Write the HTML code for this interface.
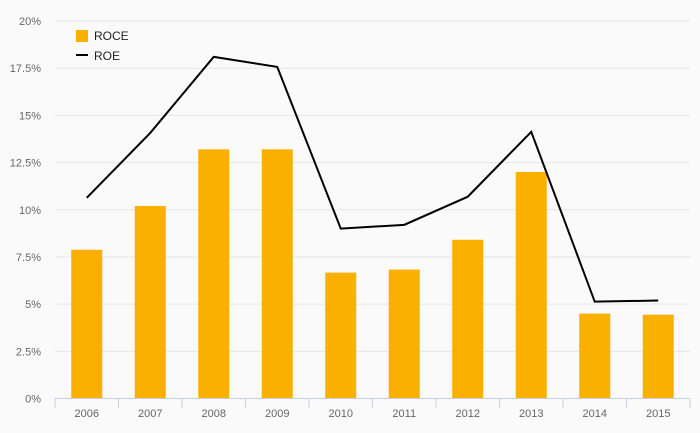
<!DOCTYPE html>
<html><head><meta charset="utf-8"><style>
body{margin:0;background:#fafafa;}
svg{display:block;font-family:"Liberation Sans",sans-serif;}
</style></head><body>
<svg id="chart" width="700" height="433">
<rect width="700" height="433" fill="#fafafa"/>
<g id="grid"></g><g id="bars"></g><g id="line"></g><g id="axis"></g>
<g>
<rect x="76" y="30" width="12" height="12" fill="#f9b000"/>
<text x="94" y="40" font-size="12" fill="#222">ROCE</text>
<line x1="76" y1="55" x2="88" y2="55" stroke="#000" stroke-width="2"/>
<text x="94" y="60" font-size="12" fill="#222">ROE</text>
</g>
</svg>
<script>
const categories=["2006","2007","2008","2009","2010","2011","2012","2013","2014","2015"];
const roce=[7.88,10.2,13.2,13.2,6.67,6.83,8.41,12.0,4.5,4.44];
const roe=[10.63,14.07,18.1,17.57,9.0,9.2,10.69,14.13,5.13,5.19];
const yTicks=[0,2.5,5,7.5,10,12.5,15,17.5,20];
const ns="http://www.w3.org/2000/svg";
const x0=55,x1=690,yb=398.5,yt=21;
const step=(x1-x0)/categories.length;
const X=i=>x0+step*(i+0.5);
const Y=v=>yb-(v/20)*(yb-yt);
function mk(t,a,p){const e=document.createElementNS(ns,t);for(const k in a)e.setAttribute(k,a[k]);p.appendChild(e);return e;}
const g=document.getElementById('grid'),b=document.getElementById('bars'),l=document.getElementById('line'),ax=document.getElementById('axis');
yTicks.forEach(v=>{
 if(v>0){const ln=mk('line',{x1:x0,x2:x1,y1:Y(v),y2:Y(v),stroke:'#e6e6e6','stroke-width':1},g);
 
 }
 const t=mk('text',{x:41,y:Y(v)+4,'font-size':11,fill:'#666','text-anchor':'end'},ax);
 t.textContent=v+'%';
 
 
});
roce.forEach((v,i)=>{
 const r=mk('rect',{x:X(i)-15.5,y:Y(v),width:31,height:yb-Y(v),fill:'#f9b000'},b);
 
 
});
const pl=mk('polyline',{points:roe.map((v,i)=>X(i)+','+Y(v)).join(' '),fill:'none',stroke:'#000','stroke-width':2},l);


const al=mk('line',{x1:x0,x2:x1,y1:yb,y2:yb,stroke:'#c5d0e6','stroke-width':1},ax);


for(let i=0;i<=categories.length;i++){
 const tk=mk('line',{x1:x0+step*i,x2:x0+step*i,y1:yb,y2:yb+9,stroke:'#c5d0e6','stroke-width':1},ax);
 
 
}
categories.forEach((c,i)=>{
 const t=mk('text',{x:X(i),y:417,'font-size':11,fill:'#666','text-anchor':'middle'},ax);
 t.textContent=c;
 
 
});
</script>
</body></html>
